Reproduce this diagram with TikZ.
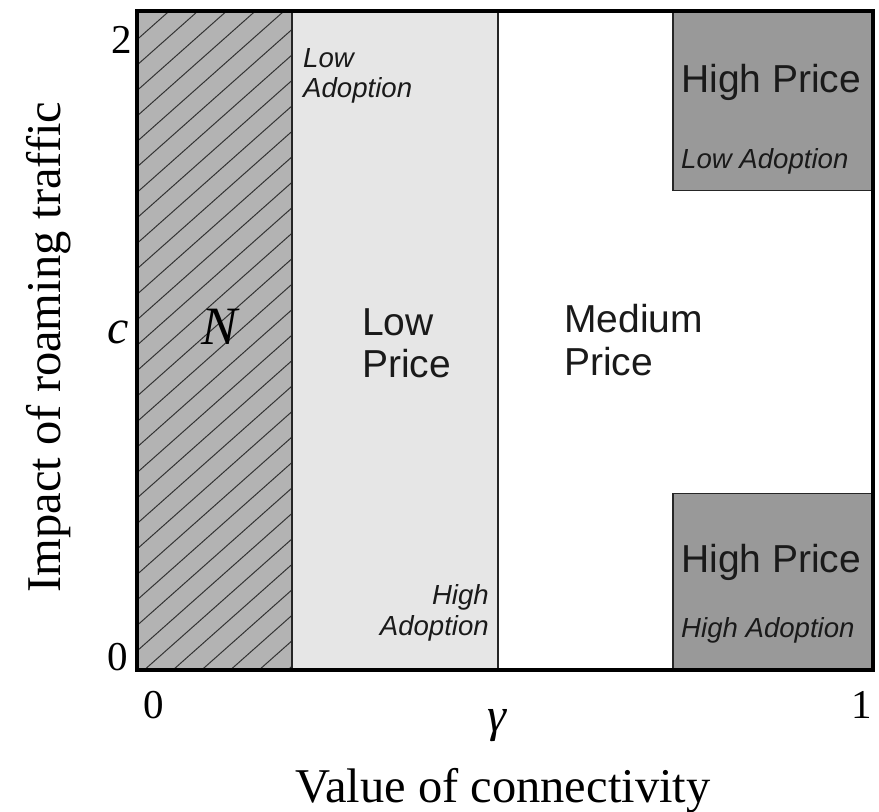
\documentclass[tikz,border=0pt]{standalone}
\usepackage{fontspec}
\setmainfont{Liberation Serif}
\setsansfont{Liberation Sans}
\definecolor{hatchgray}{HTML}{B3B3B3}
\definecolor{lightfill}{HTML}{E6E6E6}
\definecolor{boxgray}{HTML}{999999}
\definecolor{inkdark}{HTML}{1A1A1A}
\begin{document}
\begin{tikzpicture}[x=1pt,y=-1pt,
  biglbl/.style={font=\sffamily\fontsize{39}{44}\selectfont, inner sep=0pt, anchor=base west, text=inkdark},
  smalllbl/.style={font=\sffamily\itshape\fontsize{27.6}{31}\selectfont, inner sep=0pt, text=inkdark},
  numlbl/.style={font=\fontsize{41}{46}\selectfont, inner sep=0pt, anchor=base},
  axislbl/.style={font=\fontsize{48.5}{54}\selectfont, inner sep=0pt, anchor=base},
  hatchline/.style={draw=black!80, line width=1pt},
  divider/.style={draw=black!85, line width=2.2pt},
  boxstyle/.style={fill=boxgray, draw=black!85, line width=1.3pt}]
\useasboundingbox (0,0) rectangle (879,812);
% region fills
\fill[hatchgray] (137,11) rectangle (292,670);
\fill[lightfill] (292,11) rectangle (498,670);
% hatching
\begin{scope}
  \clip (137,11) rectangle (292,670);
  \foreach \k in {-27,...,6} \draw[hatchline] (142+\k*28.7,672) -- ++(800,-710);
\end{scope}
% dividers
\draw[divider] (292,11) -- (292,670);
\draw[divider] (498,11) -- (498,670);
% high price boxes
\draw[boxstyle] (673,11) rectangle (873,190.5);
\draw[boxstyle] (673,493.5) rectangle (873,670);
% outer frame
\draw[line width=4pt, line join=miter] (137,11) rectangle (873,670);
% labels inside
\node[smalllbl, anchor=base west] (la1) at (303,67) {Low};
\node[smalllbl, anchor=base west] (la2) at (303,97) {Adoption};
\node[smalllbl, anchor=base east] (ha1) at (489,604) {High};
\node[smalllbl, anchor=base east] (ha2) at (489,635) {Adoption};
\node[biglbl] (lp1) at (362,335) {Low};
\node[biglbl] (lp2) at (362,377) {Price};
\node[biglbl] (mp1) at (564,332) {Medium};
\node[biglbl] (mp2) at (564,375) {Price};
\node[biglbl] (hp1) at (681,92) {High Price};
\node[smalllbl, anchor=base west] (hp1a) at (681,168) {Low Adoption};
\node[biglbl] (hp2) at (681,572) {High Price};
\node[smalllbl, anchor=base west] (hp2a) at (681,637) {High Adoption};
\node[font=\itshape\fontsize{54}{60}\selectfont, inner sep=0pt, anchor=base] (nlbl) at (220,344) {N};
% axes
\node[numlbl] (y2) at (122,53) {2};
\node[numlbl] (y0) at (118,670) {0};
\node[font=\itshape\fontsize{48}{54}\selectfont, inner sep=0pt, anchor=base] (clbl) at (118,343) {c};
\node[numlbl] (x0) at (154,718) {0};
\node[numlbl] (x1) at (862,718) {1};
\node[font=\itshape\fontsize{48}{54}\selectfont, inner sep=0pt, anchor=base] (glbl) at (497,731) {γ};
\node[axislbl] (xlab) at (503,802) {Value of connectivity};
\node[axislbl, rotate=90] (ylab) at (60,347) {Impact of roaming traffic};
\end{tikzpicture}
\end{document}
